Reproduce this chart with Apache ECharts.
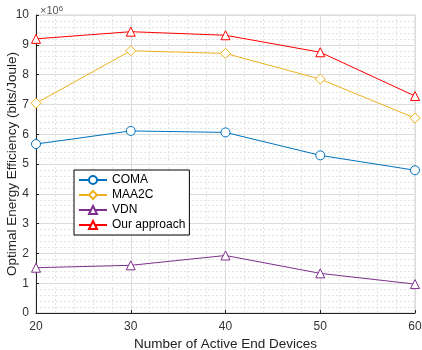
<!DOCTYPE html>
<html>
<head>
<meta charset="utf-8">
<script src="https://cdn.jsdelivr.net/npm/echarts@6/dist/echarts.min.js"></script>
<style>
  html, body { margin: 0; padding: 0; background: #fff; }
  #chart { width: 422px; height: 350px; }
</style>
</head>
<body>
<div id="chart"></div>
<script>
// values, in units of 10^6 bits/Joule
const devices = [20, 30, 40, 50, 60];
const coma = [5.67, 6.11, 6.06, 5.29, 4.79];
const maa2c = [7.04, 8.80, 8.71, 7.85, 6.54];
const vdn = [1.52, 1.60, 1.93, 1.33, 0.97];
const ourApproach = [9.20, 9.44, 9.32, 8.75, 7.28];

const font = 'Liberation Sans, Arial, sans-serif';

function makeSeries(name, values, color, symbol) {
    return {
        name: name,
        type: 'line',
        data: devices.map((d, i) => [d, values[i]]),
        symbol: symbol,
        symbolSize: symbol === 'diamond' ? 10 : 9,
        lineStyle: { color: color, width: 1 },
        itemStyle: { color: '#fff', borderColor: color, borderWidth: 1 },
        emphasis: { disabled: true },
        animation: false
    };
}

let dom = document.getElementById('chart');
let myChart = echarts.init(dom, null, { renderer: 'canvas' });

let option = {
    backgroundColor: '#fff',
    textStyle: { fontFamily: font },
    title: {
        text: '×10{s|6}',
        left: 35,
        top: 0,
        textStyle: {
            fontFamily: font, fontSize: 11, fontWeight: 'normal', color: '#555',
            rich: { s: { fontSize: 8, color: '#555', verticalAlign: 'top', lineHeight: 8 } }
        }
    },
    grid: {
        left: 36, right: 7, top: 15, bottom: 37,
        outerBoundsMode: 'none',
        containLabel: false,
        show: true, borderColor: '#d0d0d0', borderWidth: 1
    },
    legend: {
        orient: 'vertical',
        left: 74,
        top: 170,
        backgroundColor: '#fff',
        borderColor: '#000',
        borderWidth: 1,
        borderRadius: 0,
        padding: [4, 4, 4, 4],
        itemGap: 3,
        itemWidth: 28,
        itemHeight: 10,
        textStyle: { fontFamily: font, fontSize: 12, color: '#000' },
        data: ['COMA', 'MAA2C', 'VDN', 'Our approach']
    },
    xAxis: {
        type: 'value',
        min: 20, max: 60, interval: 10,
        name: 'Number of Active End Devices',
        nameLocation: 'middle',
        nameGap: 24,
        nameMoveOverlap: false,
        nameTextStyle: { fontFamily: font, fontSize: 13.5, color: '#222' },
        axisLine: { lineStyle: { color: '#222' } },
        axisTick: { inside: true, length: 3, lineStyle: { color: '#222' } },
        axisLabel: { fontFamily: font, fontSize: 12, color: '#333', margin: 8 },
        splitLine: { show: true, lineStyle: { color: '#dcdcdc', width: 1 } },
        minorTick: { show: false, splitNumber: 5 },
        minorSplitLine: { show: true, lineStyle: { color: '#e4e4e4', type: [2, 2], width: 1 } }
    },
    yAxis: {
        type: 'value',
        min: 0, max: 10, interval: 1,
        name: 'Optimal Energy Efficiency (bits/Joule)',
        nameLocation: 'middle',
        nameGap: 17,
        nameMoveOverlap: false,
        nameTextStyle: { fontFamily: font, fontSize: 13.5, color: '#222' },
        axisLine: { show: true, lineStyle: { color: '#222' } },
        axisTick: { show: true, inside: true, length: 3, lineStyle: { color: '#222' } },
        axisLabel: { fontFamily: font, fontSize: 12, color: '#333', margin: 7 },
        splitLine: { show: true, lineStyle: { color: '#dcdcdc', width: 1 } },
        minorTick: { show: false, splitNumber: 5 },
        minorSplitLine: { show: true, lineStyle: { color: '#e4e4e4', type: [2, 2], width: 1 } }
    },
    series: [
        makeSeries('COMA', coma, '#0072BD', 'circle'),
        makeSeries('MAA2C', maa2c, '#EDB120', 'diamond'),
        makeSeries('VDN', vdn, '#7E2F8E', 'triangle'),
        makeSeries('Our approach', ourApproach, '#FF0000', 'triangle')
    ]
};

if (option && typeof option === 'object') {
    myChart.setOption(option);
}
window.addEventListener('resize', myChart.resize);
</script>
</body>
</html>
